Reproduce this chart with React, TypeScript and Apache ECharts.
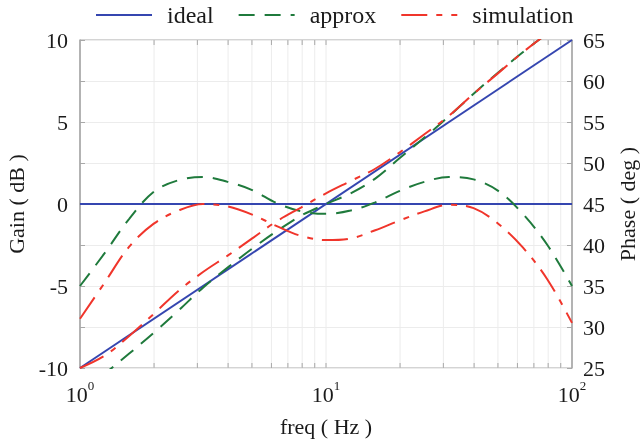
import React, { useEffect, useRef } from 'react';
import * as echarts from 'echarts';

// frequency samples (Hz), 0.1-decade steps
const FREQ = [1, 1.259, 1.585, 1.995, 2.512, 3.162, 3.981, 5.012, 6.31, 7.943, 10, 12.59, 15.85, 19.95, 25.12, 31.62, 39.81, 50.12, 63.1, 79.43, 100];
const IDEAL_FREQ = [1, 100];
const IDEAL_GAIN = [-10, 10];
const IDEAL_PHASE = [45, 45];
const APPROX_GAIN = [-11.5, -10.35, -9.12, -7.85, -6.5, -5.1, -3.88, -2.72, -1.65, -0.7, 0, 0.65, 1.55, 2.8, 4.05, 5.35, 6.72, 8.02, 9.25, 10.4, 11.5];
const SIM_GAIN = [-10, -9.25, -8.05, -6.7, -5.3, -4.15, -3.15, -2.1, -1.05, -0.2, 0.65, 1.4, 2.15, 3.15, 4.25, 5.38, 6.72, 7.98, 9.25, 10.4, 11.5];
const APPROX_PHASE = [35, 39, 43.2, 46.5, 47.9, 48.3, 47.7, 46.7, 45.1, 44.1, 43.8, 44.2, 45.2, 46.6, 47.7, 48.3, 48.0, 46.6, 43.8, 40.0, 35.0];
const SIM_PHASE = [31, 35.4, 39.8, 42.6, 44.2, 45.0, 44.7, 43.7, 42.3, 41.1, 40.6, 40.8, 41.8, 43.0, 44.1, 44.9, 44.5, 42.6, 39.7, 35.8, 30.5];
const TICK_FREQ = [2, 3, 4, 5, 6, 7, 8, 9, 10, 20, 30, 40, 50, 60, 70, 80, 90];
const LEGEND = ['ideal', 'approx', 'simulation'];

const FONT = 'Liberation Serif';
const BLUE = '#3546b0';
const GREEN = '#1f7a3c';
const RED = '#f0352b';
const TEXT = '#1a1a1a';
const AXIS = '#a8a8a8';
const GRID = '#ececec';

const pair = (xs: number[], ys: number[]) => xs.map((x, i) => [x, ys[i]]);

export default function App() {
  const ref = useRef<HTMLDivElement>(null);
  useEffect(() => {
    const chart = echarts.init(ref.current!, null, { renderer: 'svg' });
    const lineBase = { type: 'line', symbol: 'none', smooth: 0.35, clip: true, z: 3 } as any;
    chart.setOption({
      animation: false,
      textStyle: { fontFamily: FONT },
      legend: {
        data: LEGEND,
        top: -2,
        left: 90,
        itemWidth: 56,
        itemHeight: 14,
        itemGap: 24,
        itemStyle: { opacity: 0 },
        textStyle: { fontFamily: FONT, fontSize: 24, color: TEXT, padding: [0, 0, 0, 10] },
      },
      grid: { left: 80, right: 70, top: 40, bottom: 77, show: true, borderColor: AXIS, borderWidth: 1, outerBoundsMode: 'none', containLabel: false },
      xAxis: {
        type: 'log',
        logBase: 10,
        min: 1,
        max: 100,
        name: 'freq ( Hz )',
        nameLocation: 'middle',
        nameGap: 47,
        nameTextStyle: { fontFamily: FONT, fontSize: 22, color: TEXT },
        axisLine: { show: true, lineStyle: { color: AXIS, width: 1.5 } },
        axisTick: { show: false },
        splitLine: { show: false },
        axisLabel: {
          margin: 11,
          formatter: (v: number) => `{b|10}{s|${Math.round(Math.log10(v))}}`,
          rich: {
            b: { fontFamily: FONT, fontSize: 22, color: TEXT, lineHeight: 26, verticalAlign: 'bottom' },
            s: { fontFamily: FONT, fontSize: 13, color: TEXT, lineHeight: 26, verticalAlign: 'top' },
          },
        },
      },
      yAxis: [
        {
          type: 'value',
          min: -10,
          max: 10,
          interval: 2.5,
          name: 'Gain ( dB )',
          nameLocation: 'middle',
          nameRotate: 90,
          nameGap: 52,
          nameTextStyle: { fontFamily: FONT, fontSize: 22, color: TEXT },
          axisLine: { show: true, lineStyle: { color: AXIS, width: 1.5 } },
          axisTick: { show: true, inside: true, length: 5, lineStyle: { color: AXIS } },
          splitLine: { show: true, lineStyle: { color: GRID, width: 1 } },
          axisLabel: {
            margin: 12,
            fontFamily: FONT,
            fontSize: 22,
            color: TEXT,
            formatter: (v: number) => (Math.abs(v % 5) < 1e-9 ? String(v) : ''),
          },
        },
        {
          type: 'value',
          min: 25,
          max: 65,
          interval: 5,
          position: 'right',
          name: 'Phase ( deg )',
          nameLocation: 'middle',
          nameRotate: 90,
          nameGap: 44,
          nameTextStyle: { fontFamily: FONT, fontSize: 22, color: TEXT },
          axisLine: { show: true, lineStyle: { color: AXIS, width: 1.5 } },
          axisTick: { show: true, inside: true, length: 5, lineStyle: { color: AXIS } },
          splitLine: { show: false },
          axisLabel: { margin: 11, fontFamily: FONT, fontSize: 22, color: TEXT },
        },
      ],
      series: [
        {
          type: 'custom',
          name: 'grid-ticks',
          silent: true,
          z: 1,
          xAxisIndex: 0,
          yAxisIndex: 0,
          data: TICK_FREQ.map((f) => [f, 0]),
          encode: { x: 0, y: 1 },
          renderItem: (params: any, api: any) => {
            const f = api.value(0);
            const top = api.coord([f, 10]);
            const bot = api.coord([f, -10]);
            return {
              type: 'group',
              children: [
                { type: 'line', shape: { x1: top[0], y1: top[1], x2: bot[0], y2: bot[1] }, style: { stroke: GRID, lineWidth: 1 } },
                { type: 'line', shape: { x1: bot[0], y1: bot[1], x2: bot[0], y2: bot[1] - 5 }, style: { stroke: AXIS, lineWidth: 1 } },
                { type: 'line', shape: { x1: top[0], y1: top[1], x2: top[0], y2: top[1] + 5 }, style: { stroke: AXIS, lineWidth: 1 } },
              ],
            };
          },
        },
        { ...lineBase, name: 'ideal', yAxisIndex: 0, data: pair(IDEAL_FREQ, IDEAL_GAIN), smooth: false, lineStyle: { color: BLUE, width: 2, type: 'solid' }, itemStyle: { color: BLUE } },
        { ...lineBase, name: 'ideal', yAxisIndex: 1, data: pair(IDEAL_FREQ, IDEAL_PHASE), smooth: false, lineStyle: { color: BLUE, width: 2, type: 'solid' }, itemStyle: { color: BLUE } },
        { ...lineBase, name: 'approx', yAxisIndex: 0, data: pair(FREQ, APPROX_GAIN), lineStyle: { color: GREEN, width: 2, type: [16, 10] }, itemStyle: { color: GREEN } },
        { ...lineBase, name: 'approx', yAxisIndex: 1, data: pair(FREQ, APPROX_PHASE), lineStyle: { color: GREEN, width: 2, type: [16, 10] }, itemStyle: { color: GREEN } },
        { ...lineBase, name: 'simulation', yAxisIndex: 0, data: pair(FREQ, SIM_GAIN), lineStyle: { color: RED, width: 2, type: [26, 9, 6, 9] }, itemStyle: { color: RED } },
        { ...lineBase, name: 'simulation', yAxisIndex: 1, data: pair(FREQ, SIM_PHASE), lineStyle: { color: RED, width: 2, type: [26, 9, 6, 9] }, itemStyle: { color: RED } },
      ],
    });
    return () => chart.dispose();
  }, []);
  return <div ref={ref} style={{ position: 'fixed', left: 0, top: 0, width: 642, height: 445 }} />;
}
